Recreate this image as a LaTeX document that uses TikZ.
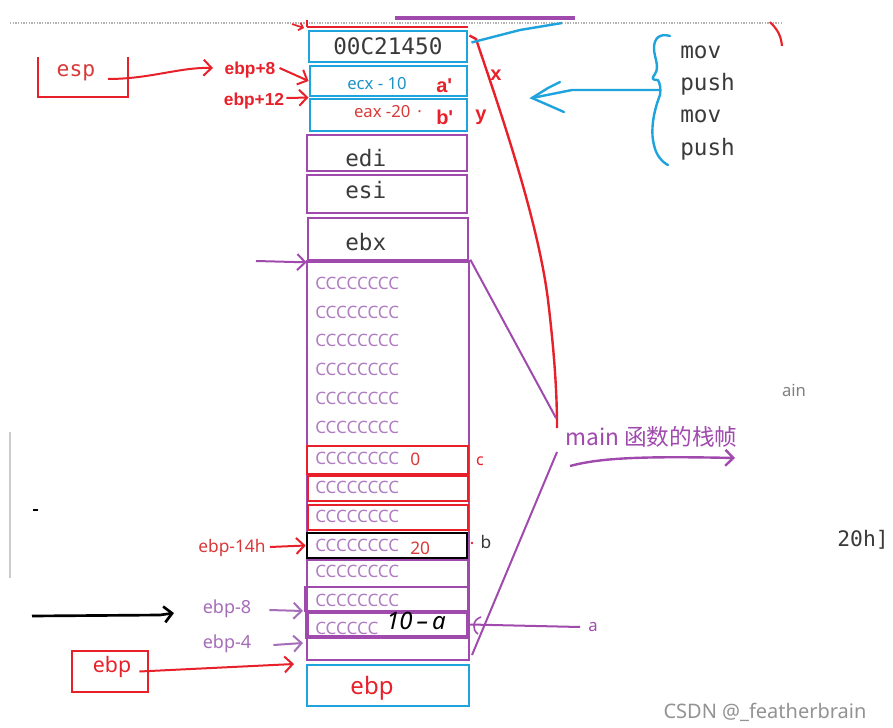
\documentclass[tikz,border=0pt]{standalone}
\usepackage{fontspec}
\setmainfont{Noto Sans}
\newfontfamily\monof{DejaVu Sans Mono}
\newfontfamily\bsans{Liberation Sans}
\newfontfamily\cjk{Noto Sans CJK SC}
\usetikzlibrary{arrows.meta,fit}
\definecolor{redc}{HTML}{E8202A}
\definecolor{purp}{HTML}{A04AAE}
\definecolor{cyanc}{HTML}{1FA3DD}
\definecolor{ctext}{HTML}{B07CC2}
\definecolor{grayt}{HTML}{3A3A3A}
\definecolor{labred}{HTML}{D83A3A}
\definecolor{lpurp}{HTML}{A66DB8}
\newcommand\myfs[1]{\fontsize{#1}{#1}\selectfont}
\begin{document}
\begin{tikzpicture}[x=0.75pt,y=-0.75pt,
  bx/.style={inner sep=0pt, draw=#1},
  tx/.style={inner sep=0pt, anchor=west},
  crow/.style={tx, text=ctext, font=\myfs{12.8}},
  mono/.style={tx, text=grayt, font=\monof\myfs{17}},
  boldlab/.style={inner sep=0pt, text=redc, font=\bsans\bfseries\myfs{#1}},
  barb/.style={-{Straight Barb[length=6pt,width=12pt]}, line width=1.5pt},
]
\fill[white] (0,0) rectangle (893,728);
\useasboundingbox (0,0) rectangle (893,728);
\begin{scope}
\clip (0,0) rectangle (893,728);
% top decorations
\draw[gray!60, densely dotted, line width=1pt] (10,23) -- (782,23);
\draw[purp, line width=3pt] (395,18) -- (575,18);
\draw[redc, line width=2pt] (307,27) -- (468,27);
\draw[redc, line width=2pt] (307,20) -- (307,27);
\draw[redc, line width=1.6pt] (770,22) .. controls (778,30) and (781,36) .. (782,46);
\draw[redc, line width=1.2pt, -{Straight Barb[length=3pt,width=6pt]}] (292,24) -- (304,28);

% stack boxes
\node[fit={(309,31)(467,62)}, bx=cyanc, line width=2.2pt] (ret) {};
\node[fit={(310,66)(467,96)}, bx=cyanc, line width=2.2pt] (ecx) {};
\node[fit={(310,99)(467,131)}, bx=cyanc, line width=2.2pt] (eax) {};
\node[fit={(307,135)(467,171)}, bx=purp, line width=2pt] (edi) {};
\node[fit={(307,175)(467,213)}, bx=purp, line width=2pt] (esi) {};
\node[fit={(308,218)(468,261)}, bx=purp, line width=2pt] (ebx) {};
\node[fit={(307,261)(469,660)}, bx=purp, line width=2pt] (frame) {};
\draw[purp, line width=3pt] (307,261) -- (469,261);
\node[fit={(307,446)(468,474)}, bx=redc, line width=2pt] (cc) {};
\node[fit={(308,476)(468,501)}, bx=redc, line width=2pt] (c8) {};
\node[fit={(308,505)(468,530)}, bx=redc, line width=2pt] (c9) {};
\node[fit={(307,533)(467,558)}, bx=black, line width=2pt] (cb) {};
\node[fit={(307,560)(468,587)}, bx=purp, line width=1.8pt] (c11) {};
\node[fit={(305,587)(468,611)}, bx=purp, line width=1.8pt] (c12) {};
\node[fit={(307,612)(468,637)}, bx=purp, line width=3pt] (ca) {};
\node[fit={(307,637)(469,660)}, bx=purp, line width=1.8pt] (c14) {};
\node[fit={(307,665)(469,706)}, bx=cyanc, line width=2.2pt] (ebpb) {};

% texts in boxes
\node[mono] (t0) at (333,46) {00C21450};
\node[inner sep=0pt, text=cyanc!90!black, font=\myfs{12.5}] (t1) at (377,84) {ecx - 10};
\node[inner sep=0pt, text=labred, font=\myfs{12.5}] (t2) at (388,112) {eax -20 \,·};
\node[boldlab=15, anchor=west] (ap) at (436,86) {a'};
\node[boldlab=15, anchor=west] (bp) at (436,117) {b'};
\node[mono] (t3) at (345,158) {edi};
\node[mono] (t4) at (345,190) {esi};
\node[mono] (t5) at (345,242) {ebx};
\node[crow] (r1) at (315,283) {CCCCCCCC};
\node[crow] (r2) at (315,312) {CCCCCCCC};
\node[crow] (r3) at (315,340) {CCCCCCCC};
\node[crow] (r4) at (315,369) {CCCCCCCC};
\node[crow] (r5) at (315,398) {CCCCCCCC};
\node[crow] (r6) at (315,427) {CCCCCCCC};
\node[crow] (r7) at (315,458) {CCCCCCCC};
\node[crow] (r8) at (315,487) {CCCCCCCC};
\node[crow] (r9) at (315,516) {CCCCCCCC};
\node[crow] (r10) at (315,545) {CCCCCCCC};
\node[crow] (r11) at (315,571) {CCCCCCCC};
\node[crow] (r12) at (315,600) {CCCCCCCC};
\node[crow] (r13) at (315,628) {CCCCCC};
\node[tx, text=labred, font=\myfs{13}] (zero) at (410,459) {0};
\node[tx, text=labred, font=\myfs{13}] (twenty) at (410,548) {20};
\node[tx, text=black, font=\itshape\myfs{18}] (tena) at (386,621) {10\,–\,a};
\node[inner sep=0pt, text=redc, font=\myfs{18}] (tebp) at (372,688) {ebp};

% left side
\node[inner sep=0pt, text=labred, font=\monof\myfs{16}] (esp) at (76,73) {esp};
\draw[redc, line width=2pt] (38,57) -- (38,97) -- (128,97) -- (128,57);
\coordinate (espo) at (108,79);
\node[boldlab=13] (l8) at (250,70) {ebp+8};
\node[boldlab=13] (l12) at (254,101) {ebp+12};
\draw[redc, barb] (espo) .. controls (150,79) and (180,67) .. (213,68);
\draw[redc, barb] (l8.east) ++(4,-2) -- (ecx.west);
\draw[redc, barb] (l12.east) ++(2,-3) -- (eax.north west);
\draw[purp, barb] (256,261) -- (ebx.south west);
\node[inner sep=0pt, text=labred, font=\myfs{13}] (l14) at (232,548) {ebp-14h};
\draw[redc, barb] (l14.east) ++(4,-1) -- (cb.west);
\node[inner sep=0pt, text=lpurp, font=\myfs{13.5}] (lm8) at (227,609) {ebp-8};
\node[inner sep=0pt, text=lpurp, font=\myfs{13.5}] (lm4) at (227,644) {ebp-4};
\draw[lpurp, barb] (lm8.east) ++(18,1) -- (303,611);
\draw[lpurp, barb] (lm4.east) ++(22,1) -- (303,643);
\coordinate (blk) at (32,616);
\draw[black, barb, line width=2pt] (blk) -- (160,615) -- (174,613);
\node[fit={(72,651)(148,692)}, bx=redc, line width=2pt] (ebpl) {};
\node[inner sep=0pt, text=redc, font=\myfs{16}] (tebpl) at (112,667) {ebp};
\draw[redc, barb] (ebpl.east) ++(-10,0) -- (294,664);
\draw[gray!40, line width=1pt] (10,432) -- (10,578);
\draw[black, line width=1pt] (33,510) -- (38,510);

% right side
\node[boldlab=15] (lx) at (496,75) {x};
\node[boldlab=15] (ly) at (481,117) {y};
\node[inner sep=0pt, text=redc, font=\myfs{12}] (lc) at (480,461) {c};
\node[inner sep=0pt, text=grayt, font=\myfs{13}] (lb) at (486,542) {b};
\fill[redc] (472,543) circle (1.3);
\node[tx, text=purp, font=\cjk\myfs{17}] (mainl) at (565,437) {main 函数的栈帧};
\coordinate (mtop) at (557,428);
\coordinate (mbot) at (557,452);
\draw[redc, line width=1.8pt] (ret.north east) ++(1,6) -- (476,39) .. controls (500,110) and (538,220) .. (548,300) .. controls (554,350) and (557,390) .. (mtop);
\draw[cyanc, line width=1.8pt] (ret.east) ++(3,-4) -- (520,30) -- (562,23);
\draw[purp, line width=1.5pt] (frame.north east) -- (556,418);
\draw[purp, line width=1.5pt] (mbot) -- (472,655);
\draw[purp, barb, line width=1.8pt] (570,466) .. controls (600,458) and (640,456) .. (735,458);
\node[inner sep=0pt, text=purp, font=\myfs{12.5}] (la) at (593,627) {a};
\draw[purp, line width=1.5pt] (ca.east) -- (580,627);
\draw[purp, line width=1.2pt] (481,617) .. controls (472,620) and (472,630) .. (478,634);
\node[inner sep=0pt, text=gray, font=\myfs{12.5}] (ain) at (794,390) {ain};
\node[inner sep=0pt, anchor=east, text=grayt, font=\monof\myfs{16}] (h20) at (889,540) {20h]};
\node[inner sep=0pt, text=gray!85, font=\myfs{15}] (wm) at (765,712) {CSDN @\_featherbrain};

% brace and instructions
\node[mono] (m1) at (680,52) {mov};
\node[mono] (m2) at (680,84) {push};
\node[mono] (m3) at (680,116) {mov};
\node[mono] (m4) at (680,149) {push};
\coordinate (brm) at (660,90);
\draw[cyanc, line width=1.8pt, line join=round, line cap=round] (670,36) .. controls (660,33) and (654,38) .. (654,48) .. controls (654,58) and (660,66) .. (655,74) .. controls (652,78) and (651,80) .. (658,80) .. controls (660,84) and (661,88) .. (660,95) .. controls (654,110) and (650,130) .. (654,145) .. controls (656,155) and (662,162) .. (668,165);
\draw[cyanc, line width=1.8pt, line join=round, line cap=round] (brm) -- (572,90) -- (532,98);
\draw[cyanc, line width=1.8pt, line cap=round] (560,82) -- (548,88) -- (532,98) -- (564,112);
\end{scope}
\end{tikzpicture}
\end{document}
